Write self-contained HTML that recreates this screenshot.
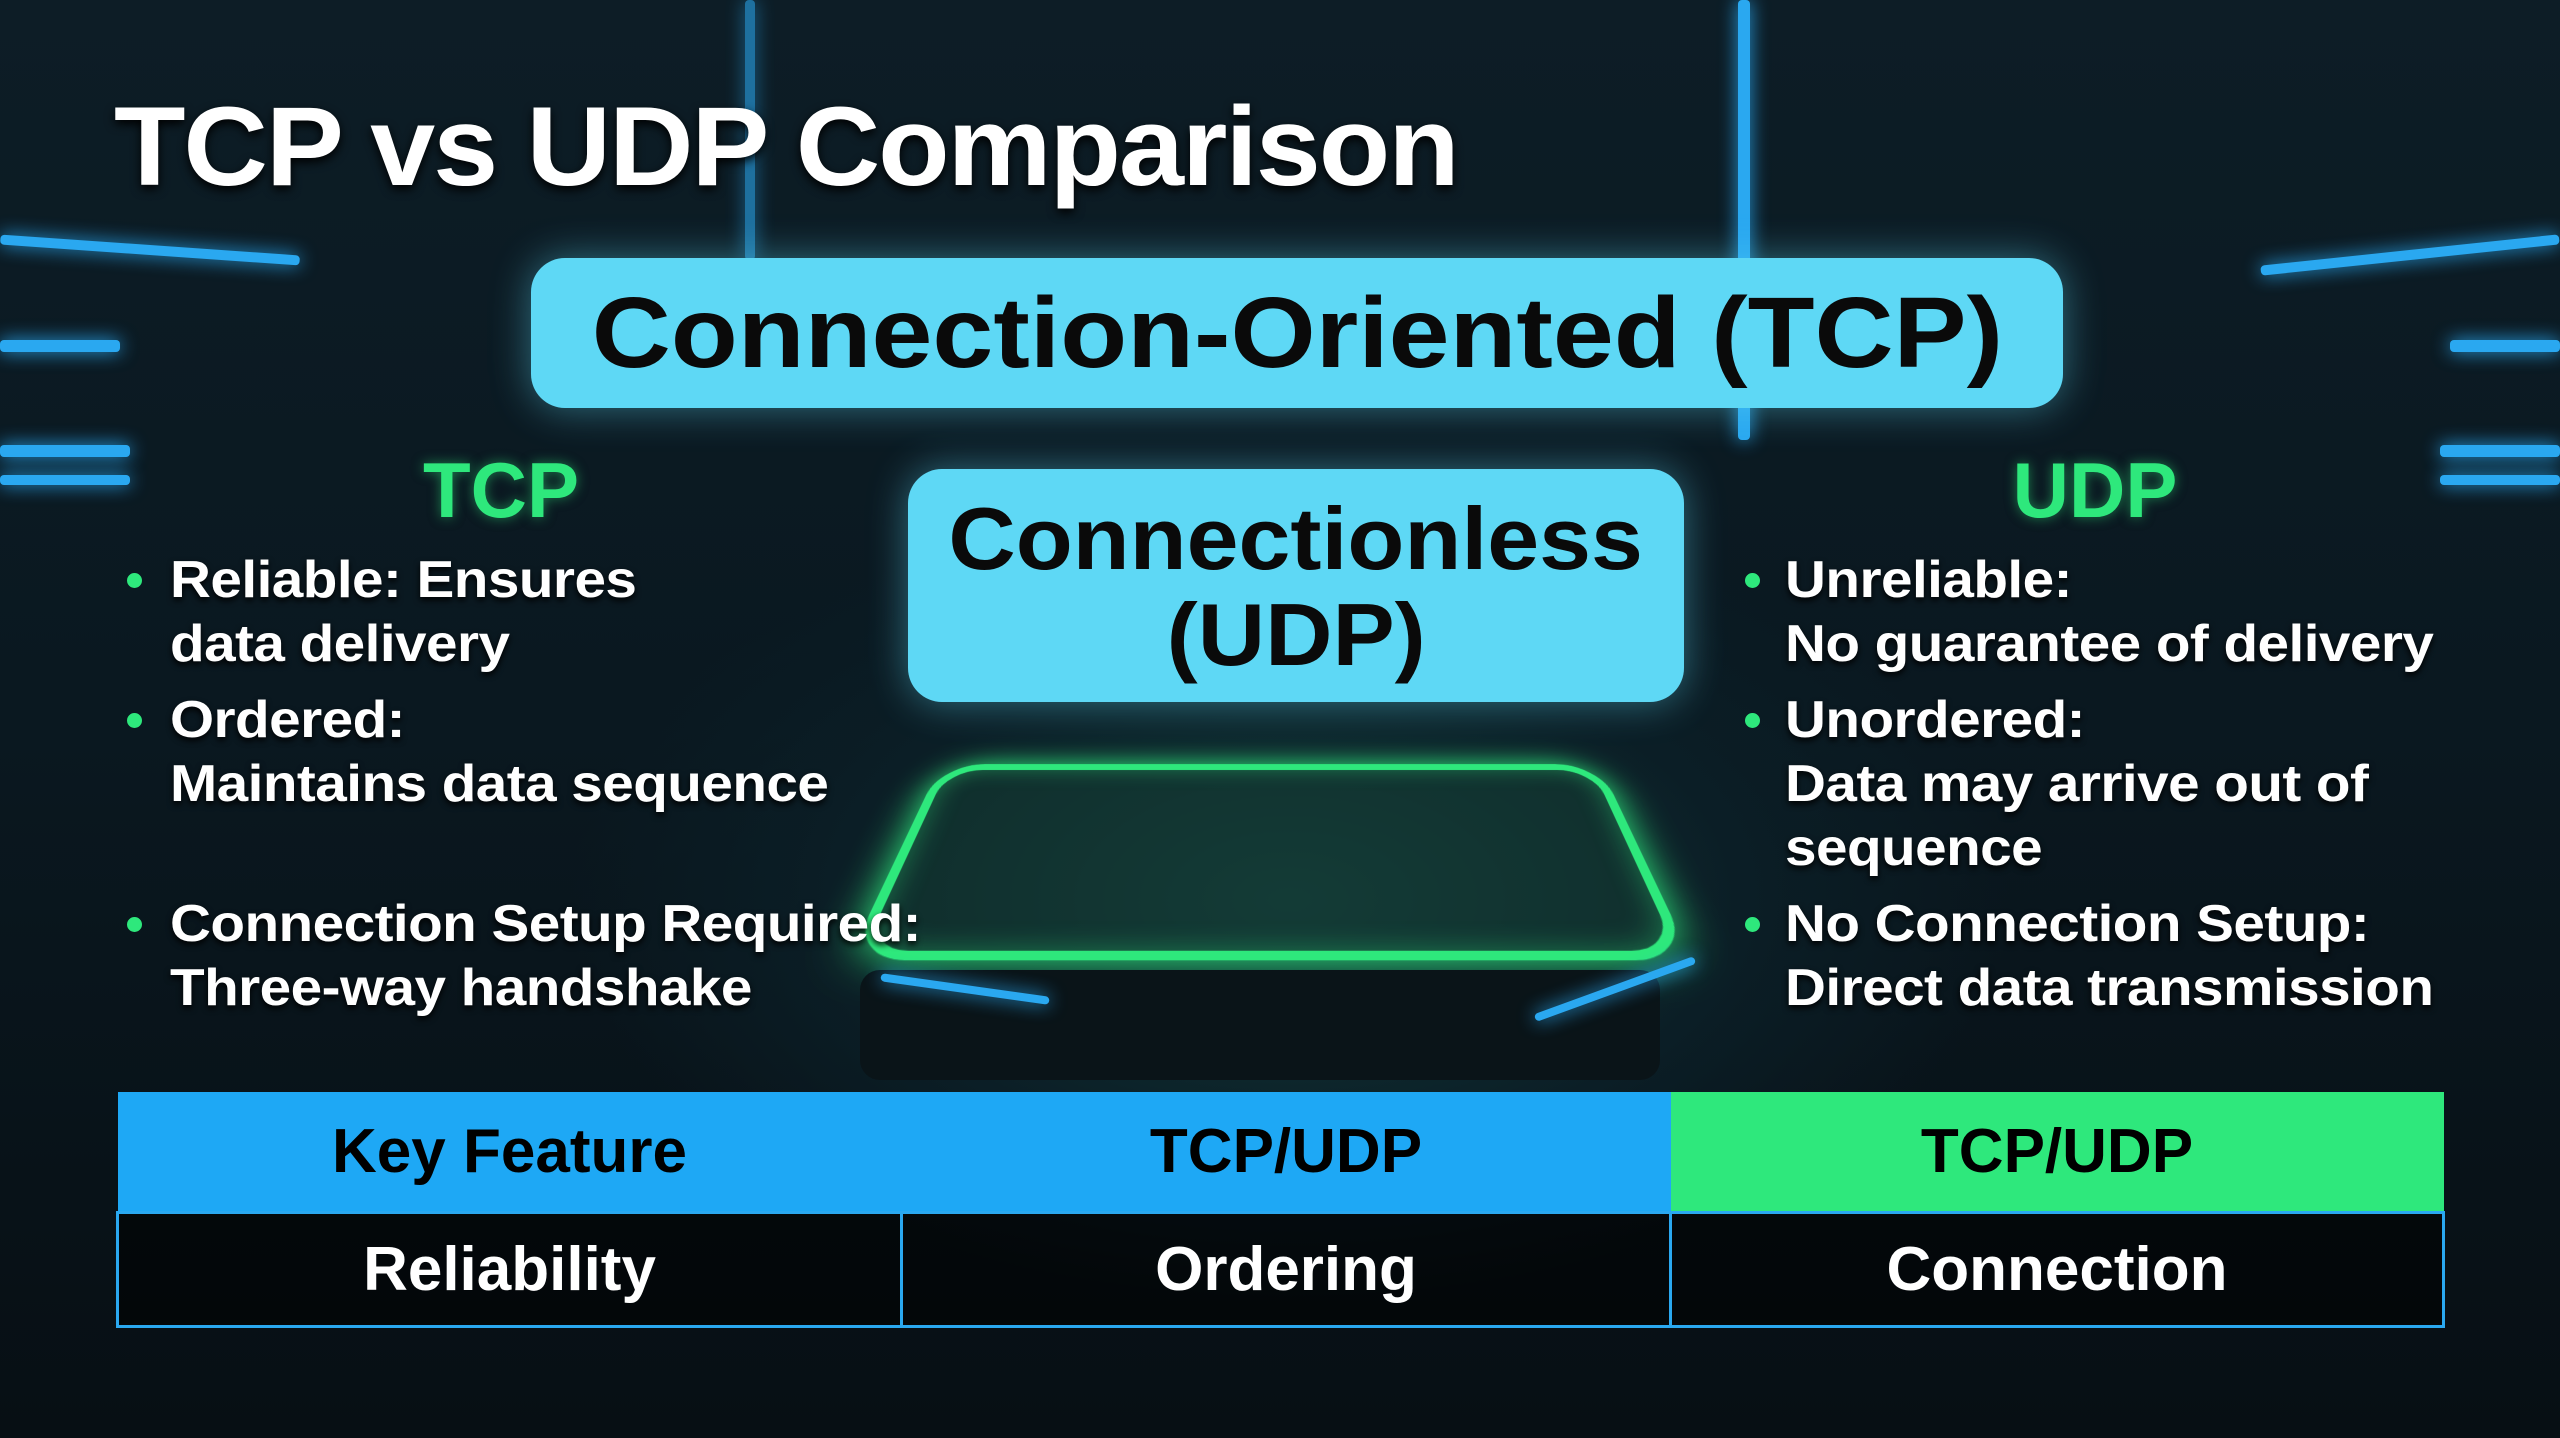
<!DOCTYPE html>
<html><head><meta charset="utf-8"><style>
*{margin:0;padding:0;box-sizing:border-box}
body{width:2560px;height:1438px;overflow:hidden;font-family:"Liberation Sans",sans-serif;font-weight:bold;position:relative;
background:radial-gradient(ellipse 900px 500px at 1290px 900px,#123a3a 0%,#0b1e26 50%,transparent 80%),linear-gradient(180deg,#0d1d26 0%,#0a1820 50%,#070f14 100%);}
.abs{position:absolute}
.glowline{position:absolute;background:#2aa8f0;box-shadow:0 0 18px #2aa8f0;border-radius:4px}
.title{left:114px;top:82px;font-size:112px;color:#fff;letter-spacing:-2px;text-shadow:0 4px 10px #000;transform:scaleX(1.045);transform-origin:left;white-space:nowrap}
.box{position:absolute;background:#5ed8f5;border-radius:34px;color:#0a0a0a;text-align:center;box-shadow:0 0 40px rgba(94,216,245,.45)}
.box span{display:inline-block;white-space:nowrap}
.b1{left:531px;top:258px;width:1532px;height:150px;font-size:100px;line-height:150px}
.b1 span{transform:scaleX(1.095)}
.b2{left:908px;top:469px;width:776px;height:233px;font-size:88px;line-height:96px;padding-top:22px}
.b2 span{transform:scaleX(1.06)}
.h{position:absolute;font-size:78px;color:#2ee87c;text-align:center;width:400px;text-shadow:0 0 12px rgba(46,232,124,.5)}
.li{position:absolute;font-size:52px;line-height:64px;color:#fff;text-shadow:0 3px 6px #000;letter-spacing:-0.5px;transform:scaleX(1.09);transform-origin:left;white-space:nowrap}
.dot{position:absolute;width:15px;height:15px;border-radius:50%;background:#2ee87c}
table{position:absolute;left:116px;top:1092px;width:2329px;height:236px;border-collapse:collapse;font-size:62px}
td{text-align:center;border:3px solid #2aa8f0}
tr.hd td{background:#1ea8f5;color:#000;height:120px;border:none}
tr.hd td.g{background:#2ee87c}
tr.bd td{color:#fff;background:rgba(0,0,0,.55)}
</style></head><body>
<div class="glowline" style="left:0;top:245px;width:300px;height:10px;transform:rotate(4deg)"></div>
<div class="glowline" style="left:0;top:340px;width:120px;height:12px"></div>
<div class="glowline" style="left:0;top:445px;width:130px;height:12px"></div>
<div class="glowline" style="left:0;top:475px;width:130px;height:10px"></div>
<div class="glowline" style="left:2440px;top:445px;width:120px;height:12px"></div>
<div class="glowline" style="left:2440px;top:475px;width:120px;height:10px"></div>
<div class="glowline" style="left:2450px;top:340px;width:110px;height:12px"></div>
<div class="glowline" style="left:2260px;top:250px;width:300px;height:10px;transform:rotate(-6deg)"></div>
<div class="glowline" style="left:1738px;top:0;width:12px;height:440px"></div>
<div class="glowline" style="left:745px;top:0;width:10px;height:260px;opacity:.6"></div>
<div class="abs" style="left:900px;top:720px;width:740px;height:260px;border:10px solid #2ee87c;border-radius:50px;box-shadow:0 0 40px #2ee87c,inset 0 0 30px rgba(46,232,124,.4);transform:perspective(700px) rotateX(42deg);background:rgba(20,60,50,.5)"></div>
<div class="abs" style="left:860px;top:970px;width:800px;height:110px;background:#0a1418;border-radius:20px"></div>
<div class="glowline" style="left:880px;top:985px;width:170px;height:8px;transform:rotate(8deg)"></div>
<div class="glowline" style="left:1530px;top:985px;width:170px;height:8px;transform:rotate(-20deg)"></div>
<div class="abs title">TCP vs UDP Comparison</div>
<div class="box b1"><span>Connection-Oriented (TCP)</span></div>
<div class="box b2"><span>Connectionless</span><br><span>(UDP)</span></div>
<div class="h" style="left:301px;top:445px">TCP</div>
<div class="h" style="left:1895px;top:445px">UDP</div>
<div class="dot" style="left:127px;top:573px"></div>
<div class="li" style="left:170px;top:548px">Reliable: Ensures<br>data delivery</div>
<div class="dot" style="left:127px;top:713px"></div>
<div class="li" style="left:170px;top:688px">Ordered:<br>Maintains data sequence</div>
<div class="dot" style="left:127px;top:917px"></div>
<div class="li" style="left:170px;top:892px">Connection Setup Required:<br>Three-way handshake</div>
<div class="dot" style="left:1745px;top:573px"></div>
<div class="li" style="left:1785px;top:548px">Unreliable:<br>No guarantee of delivery</div>
<div class="dot" style="left:1745px;top:713px"></div>
<div class="li" style="left:1785px;top:688px">Unordered:<br>Data may arrive out of<br>sequence</div>
<div class="dot" style="left:1745px;top:917px"></div>
<div class="li" style="left:1785px;top:892px">No Connection Setup:<br>Direct data transmission</div>
<table>
<tr class="hd"><td style="width:784px">Key Feature</td><td style="width:769px">TCP/UDP</td><td class="g">TCP/UDP</td></tr>
<tr class="bd"><td>Reliability</td><td>Ordering</td><td>Connection</td></tr>
</table>
</body></html>
